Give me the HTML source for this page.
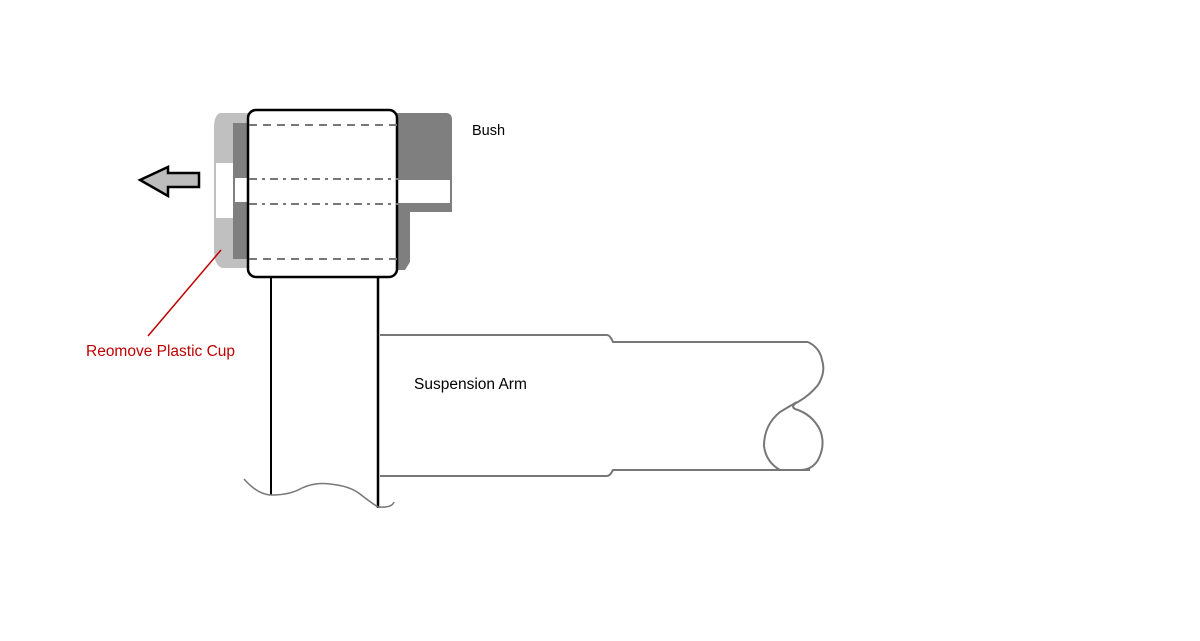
<!DOCTYPE html>
<html><head><meta charset="utf-8"><style>
html,body{margin:0;padding:0;background:#fff;}
svg{display:block;}
text{font-family:"Liberation Sans",sans-serif;}
</style></head><body>
<svg width="1200" height="641" viewBox="0 0 1200 641" xmlns="http://www.w3.org/2000/svg">
<rect width="1200" height="641" fill="#fff"/>
<path d="M220 113 H250 V268 H222 Q214 265 214 250 V128 Q214 115 220 113 Z" fill="#c0c0c0"/>
<rect x="233" y="123" width="16" height="136" fill="#7f7f7f"/>
<rect x="216" y="163" width="17" height="55" fill="#fff"/>
<rect x="235" y="178" width="13" height="24" fill="#fff"/>
<path d="M396 113 H446 Q452 113 452 120 V212 H410 V262 L405 270 H396 Z" fill="#7f7f7f"/>
<rect x="398" y="180" width="52" height="23" fill="#fff"/>
<rect x="248" y="110" width="149" height="167" rx="8" fill="#fff" stroke="#000" stroke-width="2.5"/>
<g stroke="#777" stroke-width="2" fill="none">
<line x1="249" y1="125" x2="400" y2="125" stroke-dasharray="8,6"/>
<line x1="249" y1="179" x2="400" y2="179" stroke-dasharray="8,5,3,5"/>
<line x1="249" y1="204" x2="400" y2="204" stroke-dasharray="8,5,3,5"/>
<line x1="249" y1="259" x2="400" y2="259" stroke-dasharray="8,6"/>
</g>
<path d="M140 180 L168 167 V173 H199 V187 H168 V196 Z" fill="#bdbdbd" stroke="#000" stroke-width="2.5"/>
<line x1="221" y1="250" x2="148" y2="336" stroke="#c00000" stroke-width="1.5"/>
<text x="86" y="356" font-size="15.5" fill="#c00000">Reomove Plastic Cup</text>
<text x="472" y="135" font-size="14.5" fill="#000">Bush</text>
<line x1="271" y1="277" x2="271" y2="495" stroke="#000" stroke-width="2"/>
<line x1="378" y1="277" x2="378" y2="508" stroke="#000" stroke-width="2.5"/>
<path d="M244 479 Q258 495 272 495 Q290 495 302 488 Q315 482 330 484 Q350 486 360 494 Q370 502 378 507 Q392 508 394 502" fill="none" stroke="#777" stroke-width="1.5"/>
<g fill="none" stroke="#777" stroke-width="2">
<path d="M380 335 H607 Q610 335 613 342 H808"/>
<path d="M380 476 H607 Q610 476 613 470 H810"/>
<path d="M808 342 Q820 348 822 360 Q826 372 818 385 Q810 395 798 402 Q790 406 795 409 Q812 414 820 430 Q826 445 818 460 Q812 470 800 470 H780 Q766 462 764 446 Q764 425 780 412 Q790 406 797 402"/>
</g>
<text x="414" y="389" font-size="15.5" fill="#000">Suspension Arm</text>
</svg>
</body></html>
